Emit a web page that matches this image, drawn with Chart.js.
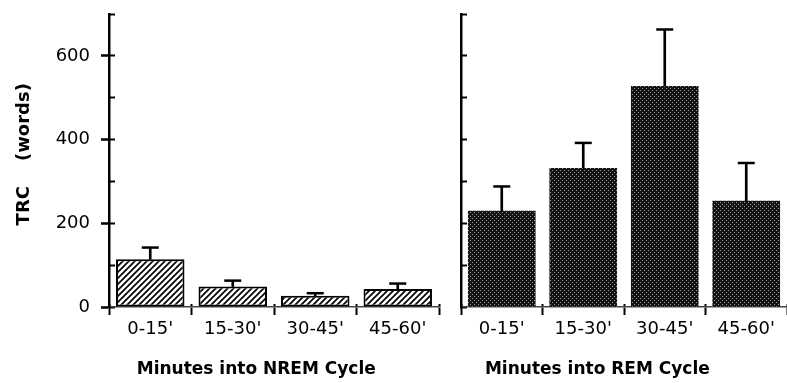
<!DOCTYPE html>
<html>
<head>
<meta charset="utf-8">
<script src="https://cdn.jsdelivr.net/npm/chart.js@4"></script>
<style>
  body { margin: 0; background: #fff; }
  #wrap { position: relative; width: 787px; height: 383px; overflow: hidden; }
  canvas { position: absolute; top: 0; }
  #nrem { left: 0; }
  #rem { left: 450px; }
</style>
</head>
<body>
<div id="wrap">
  <canvas id="nrem" width="450" height="383"></canvas>
  <canvas id="rem" width="337" height="383"></canvas>
</div>
<script>
const categories = ["0-15'", "15-30'", "30-45'", "45-60'"];
const nremMeans = [114, 49, 27, 43];
const nremErrTop = [142, 63, 33, 56];
const remMeans = [230, 332, 528, 254];
const remErrTop = [288, 392, 663, 344];
const yTicks = [0, 200, 400, 600];

// fill patterns for the bars
const hatchPattern = () => {
  const c = document.createElement("canvas");
  c.width = 6;
  c.height = 6;
  const g = c.getContext("2d");
  g.fillStyle = "#fff";
  g.fillRect(0, 0, 6, 6);
  g.strokeStyle = "#000";
  g.lineWidth = 1.7;
  g.beginPath();
  g.moveTo(-1, 7); g.lineTo(7, -1);
  g.moveTo(-4, 4); g.lineTo(4, -4);
  g.moveTo(2, 10); g.lineTo(10, 2);
  g.stroke();
  return g.createPattern(c, "repeat");
};

const stipplePattern = () => {
  const c = document.createElement("canvas");
  c.width = 4;
  c.height = 4;
  const g = c.getContext("2d");
  g.fillStyle = "#141414";
  g.fillRect(0, 0, 4, 4);
  g.fillStyle = "#9a9a9a";
  g.fillRect(0, 0, 1, 1);
  g.fillRect(2, 2, 1, 1);
  return g.createPattern(c, "repeat");
};

const tickFont = { family: "DejaVu Sans", size: 18 };
const titleFont = { family: "DejaVu Sans", size: 17, weight: "bold" };

const makeDatasets = (means, errTop, fill, border) => [
  {
    data: means,
    backgroundColor: fill,
    borderColor: "#000",
    borderWidth: border,
    borderSkipped: false,
    grouped: false,
    categoryPercentage: 1,
    barPercentage: 0.83,
    order: 2,
  },
  {
    data: means.map((v, i) => [v, errTop[i]]),
    backgroundColor: "#000",
    borderWidth: 0,
    grouped: false,
    barThickness: 2,
    order: 1,
  },
  {
    type: "line",
    data: errTop,
    showLine: false,
    pointStyle: "line",
    pointRadius: 8.5,
    pointBorderWidth: 2.5,
    borderColor: "#000",
    order: 0,
  },
];

// no label overflow padding, the layout is fixed by hand
const noPad = (s) => {
  s.paddingLeft = 0;
  s.paddingRight = 0;
  s.paddingTop = 0;
  s.paddingBottom = 0;
};

const xScales = (title) => ({
  x: {
    type: "category",
    weight: 10,
    offset: true,
    grid: { offset: true, drawOnChartArea: false, tickLength: 8, tickWidth: 2, tickColor: "#000" },
    border: { display: true, color: "#444", width: 1.5, dash: [2, 2] },
    ticks: { color: "#000", font: tickFont, padding: 4, maxRotation: 0, autoSkip: false },
    title: { display: true, text: title, color: "#000", font: titleFont, padding: { top: 0, bottom: 3 } },
    afterFit: (s) => { s.height = 76; noPad(s); },
  },
  xIn: {
    type: "category",
    position: "bottom",
    weight: 0,
    offset: true,
    grid: { offset: true, drawOnChartArea: false, tickLength: -3, tickWidth: 2, tickColor: "#000" },
    border: { display: false },
    ticks: { display: false },
    afterFit: (s) => { s.height = 0; noPad(s); },
  },
});

const baseOptions = {
  responsive: false,
  animation: false,
  events: [],
  plugins: { legend: { display: false }, tooltip: { enabled: false } },
};

// NREM panel
new Chart(document.getElementById("nrem"), {
  type: "bar",
  data: {
    labels: categories,
    datasets: makeDatasets(nremMeans, nremErrTop, hatchPattern(), 2),
  },
  options: {
    ...baseOptions,
    layout: { autoPadding: false, padding: { top: 14, right: 11, left: 0, bottom: 0 } },
    scales: {
      ...xScales("Minutes into NREM Cycle      "),
      y: {
        weight: 10,
        min: 0,
        max: 700,
        ticks: {
          stepSize: 100,
          color: "#000",
          font: tickFont,
          padding: 11,
          callback: (v) => (yTicks.includes(v) ? v : ""),
        },
        grid: {
          drawOnChartArea: false,
          tickLength: 8,
          tickWidth: 2.5,
          tickColor: (ctx) => (ctx.tick && yTicks.includes(ctx.tick.value) ? "#000" : "rgba(0,0,0,0)"),
        },
        border: { display: true, color: "#000", width: 2.5 },
        title: {
          display: true,
          text: "  TRC    (words)",
          color: "#000",
          font: { family: "DejaVu Sans", size: 18, weight: "bold" },
          padding: { top: 14, bottom: 0 },
        },
        afterFit: (s) => { s.width = 109; noPad(s); },
      },
      yIn: {
        position: "left",
        weight: 0,
        min: 0,
        max: 700,
        ticks: { display: false, stepSize: 100 },
        grid: { drawOnChartArea: false, tickLength: -6, tickWidth: 2, tickColor: "#000" },
        border: { display: false },
        afterFit: (s) => { s.width = 0; noPad(s); },
      },
    },
  },
});

// REM panel
new Chart(document.getElementById("rem"), {
  type: "bar",
  data: {
    labels: categories,
    datasets: makeDatasets(remMeans, remErrTop, stipplePattern(), 0),
  },
  options: {
    ...baseOptions,
    layout: { autoPadding: false, padding: { top: 14, right: 0, left: 0, bottom: 0 } },
    scales: {
      ...xScales("Minutes into REM Cycle         "),
      y: {
        min: 0,
        max: 700,
        ticks: { display: false, stepSize: 100 },
        grid: { drawOnChartArea: false, tickLength: -6, tickWidth: 2, tickColor: "#000" },
        border: { display: true, color: "#000", width: 2.5 },
        afterFit: (s) => { s.width = 11; noPad(s); },
      },
    },
  },
});
</script>
</body>
</html>
